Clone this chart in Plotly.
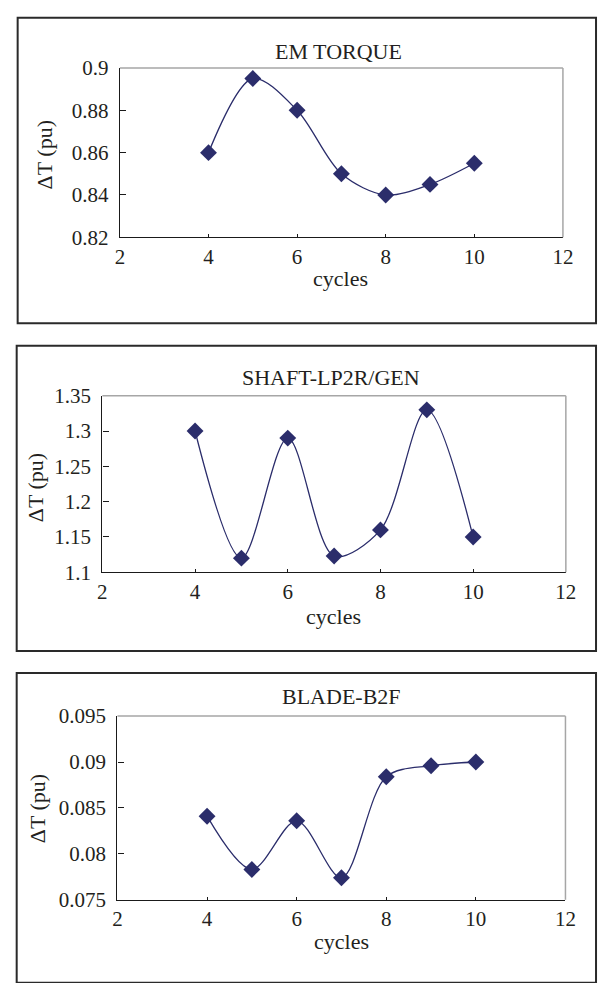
import plotly.graph_objects as go

W, H = 608, 983

cycles = [4, 5, 6, 7, 8, 9, 10]
em_torque = [0.86, 0.895, 0.88, 0.85, 0.84, 0.845, 0.855]
shaft_lp2r_gen = [1.30, 1.12, 1.29, 1.123, 1.16, 1.33, 1.15]
blade_b2f = [0.0841, 0.0783, 0.0836, 0.0774, 0.0884, 0.0896, 0.0900]

titles = ["EM TORQUE", "SHAFT-LP2R/GEN", "BLADE-B2F"]
series = [em_torque, shaft_lp2r_gen, blade_b2f]
y_ranges = [[0.82, 0.9], [1.1, 1.35], [0.075, 0.095]]
y_dticks = [0.02, 0.05, 0.005]
x_range = [2, 12]
x_label = "cycles"
y_label = "ΔT (pu)"

# layout geometry in pixels
plot_boxes = [  # left, right, top, bottom
    (118, 573, 57.3, 231),
    (100, 576, 393.3, 574.3),
    (115.5, 575.6, 721.7, 910),
]
outer_boxes = [
    (13, 607, 6, 319),
    (12, 607, 342, 655),
    (12, 607, 677.5, 995),
]
title_pos = [(343, 40), (335, 375), (346, 702)]
xlab_pos = [(345, 273), (337, 620), (346, 953)]
ylab_pos = [(40, 146), (31, 488), (33, 817)]

FONT = "Liberation Serif, Times New Roman, serif"
TXT = "#231f20"
NAVY = "#2b2d6b"

def px(x):
    return x / W

def py(y):
    return 1 - y / H

fig = go.Figure()
shapes = []
annotations = []

for i in range(3):
    sfx = "" if i == 0 else str(i + 1)
    xa, ya = "xaxis" + sfx, "yaxis" + sfx
    l, r, t, b = plot_boxes[i]
    fig.add_trace(go.Scatter(
        x=cycles, y=series[i], mode="lines+markers",
        line=dict(color=NAVY, width=1.3, shape="spline", smoothing=0.9),
        marker=dict(symbol="diamond", size=13, color=NAVY),
        xaxis="x" + sfx, yaxis="y" + sfx, showlegend=False, cliponaxis=False,
    ))
    fig.layout[xa] = dict(
        domain=[px(l), px(r)], range=x_range, dtick=2, tick0=0,
        showgrid=False, zeroline=False, showline=True, linecolor="#1a1a1a",
        linewidth=1.3, ticks="inside", ticklen=3, tickcolor="#1a1a1a",
        tickfont=dict(family=FONT, size=21, color=TXT),
        anchor="y" + sfx, fixedrange=True,
    )
    fig.layout[ya] = dict(
        domain=[py(b), py(t)], range=y_ranges[i], dtick=y_dticks[i],
        tick0=y_ranges[i][0],
        showgrid=False, zeroline=False, showline=True, linecolor="#1a1a1a",
        linewidth=1.3, ticks="inside", ticklen=6, tickcolor="#1a1a1a",
        tickfont=dict(family=FONT, size=21, color=TXT), ticklabelstandoff=6,
        anchor="x" + sfx, fixedrange=True,
    )
    # gray top & right frame
    shapes.append(dict(type="line", xref=f"x{sfx} domain", yref=f"y{sfx} domain",
                       x0=0, x1=1, y0=1, y1=1, line=dict(color="#a6a6a6", width=1.5)))
    shapes.append(dict(type="line", xref=f"x{sfx} domain", yref=f"y{sfx} domain",
                       x0=1, x1=1, y0=0, y1=1, line=dict(color="#a6a6a6", width=1.5)))
    # outer box
    ol, orr, ot, ob = outer_boxes[i]
    shapes.append(dict(type="rect", xref="paper", yref="paper",
                       x0=px(ol), x1=px(orr), y0=py(ob), y1=py(ot),
                       line=dict(color="#2a2a2a", width=2)))
    tx, ty = title_pos[i]
    annotations.append(dict(text=titles[i], x=px(tx), y=py(ty), xref="paper", yref="paper",
                            showarrow=False, xanchor="center", yanchor="middle",
                            font=dict(family=FONT, size=22, color=TXT)))
    cx, cy = xlab_pos[i]
    annotations.append(dict(text=x_label, x=px(cx), y=py(cy), xref="paper", yref="paper",
                            showarrow=False, xanchor="center", yanchor="middle",
                            font=dict(family=FONT, size=22, color=TXT)))
    lx, ly = ylab_pos[i]
    annotations.append(dict(text=y_label, x=px(lx), y=py(ly), xref="paper", yref="paper",
                            showarrow=False, xanchor="center", yanchor="middle", textangle=-90,
                            font=dict(family=FONT, size=22, color=TXT)))

fig.update_layout(
    width=W, height=H, margin=dict(l=0, r=0, t=0, b=0),
    paper_bgcolor="white", plot_bgcolor="white",
    shapes=shapes, annotations=annotations,
)

fig.write_html("out.html", config={"displayModeBar": False})
